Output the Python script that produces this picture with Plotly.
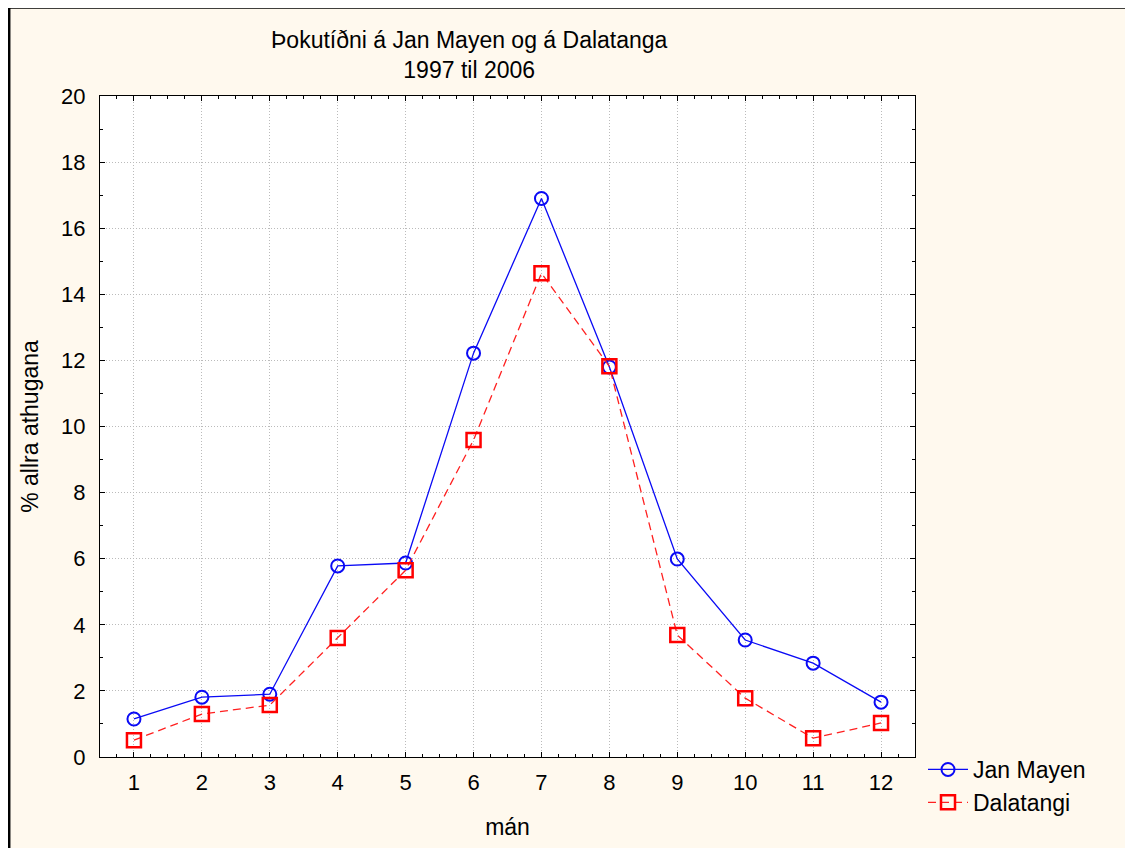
import plotly.graph_objects as go

months = [1, 2, 3, 4, 5, 6, 7, 8, 9, 10, 11, 12]
jan_mayen = [1.15, 1.81, 1.90, 5.78, 5.87, 12.22, 16.90, 11.80, 5.99, 3.54, 2.84, 1.66]
dalatangi = [0.51, 1.30, 1.57, 3.60, 5.65, 9.59, 14.64, 11.82, 3.69, 1.78, 0.57, 1.03]
x_ticks = months
y_ticks = [0, 2, 4, 6, 8, 10, 12, 14, 16, 18, 20]

# page is drawn with an 8px body margin, so figure coords = page coords - 8
W, H = 1125, 840
L, R, T, B = 92, 907, 88, 749
FONT = "Liberation Sans, Arial, sans-serif"
FS = 22
FS_T = 23

fig = go.Figure()
fig.add_trace(go.Scatter(
    x=months, y=jan_mayen, name="Jan Mayen", mode="lines+markers",
    line=dict(color="#0A0AF5", width=1.3),
    marker=dict(symbol="circle-open", size=13, color="#0A0AF5", line=dict(width=2, color="#0A0AF5")),
))
fig.add_trace(go.Scatter(
    x=months, y=dalatangi, name="Dalatangi", mode="lines+markers",
    line=dict(color="#FF2020", width=1.3, dash="8px,5px"),
    marker=dict(symbol="square-open", size=14, color="#FF0000", line=dict(width=2.5, color="#FF0000")),
))

axis_common = dict(
    showline=True, linecolor="black", linewidth=1.2, mirror="allticks",
    ticks="inside", ticklen=5, tickcolor="black", tickwidth=1,
    showgrid=True, gridcolor="#BBBBBB", griddash="1px,2px", gridwidth=1,
    zeroline=False,
    tickfont=dict(family=FONT, size=FS, color="black"),
)

fig.update_xaxes(
    range=[0.5, 12.5], tickvals=x_ticks, ticktext=[str(v) for v in x_ticks],
    minor=dict(ticks="inside", dtick=0.25, tick0=0, ticklen=3, tickcolor="black", showgrid=False),
    title=dict(text="mán", font=dict(family=FONT, size=FS_T, color="black"), standoff=25),
    ticklabelstandoff=5,
    **axis_common,
)
fig.update_yaxes(
    range=[0, 20], tickvals=y_ticks,
    minor=dict(ticks="inside", dtick=1, tick0=0, ticklen=3, tickcolor="black", showgrid=False),
    title=dict(text="% allra athugana", font=dict(family=FONT, size=FS_T, color="black"), standoff=15),
    ticklabelstandoff=9,
    **axis_common,
)

fig.add_annotation(
    text="Þokutíðni á Jan Mayen og á Dalatanga<br>1997 til 2006",
    xref="paper", yref="paper", x=(461 - L) / (R - L), y=(B - 46.5) / (B - T),
    xanchor="center", yanchor="middle", showarrow=False,
    font=dict(family=FONT, size=FS_T, color="black"),
)

bx = (1.2 - L) / (R - L)
by = (B - (-0.5)) / (B - T)
fig.add_shape(type="line", xref="paper", yref="paper", x0=bx, x1=bx, y0=-0.3, y1=by,
              line=dict(color="black", width=2.5))
fig.add_shape(type="line", xref="paper", yref="paper", x0=bx, x1=1.4, y0=by, y1=by,
              line=dict(color="black", width=2.5))

fig.update_layout(
    width=W, height=H,
    margin=dict(l=L, r=W - R, t=T, b=H - B, autoexpand=False),
    paper_bgcolor="#FFF9EE", plot_bgcolor="white",
    showlegend=True,
    legend=dict(x=(915 - L) / (R - L), y=0.0136, xanchor="left", yanchor="top",
                bgcolor="rgba(0,0,0,0)", tracegroupgap=0, itemwidth=40,
                font=dict(family=FONT, size=FS_T, color="black")),
)

fig.write_html("out.html")
